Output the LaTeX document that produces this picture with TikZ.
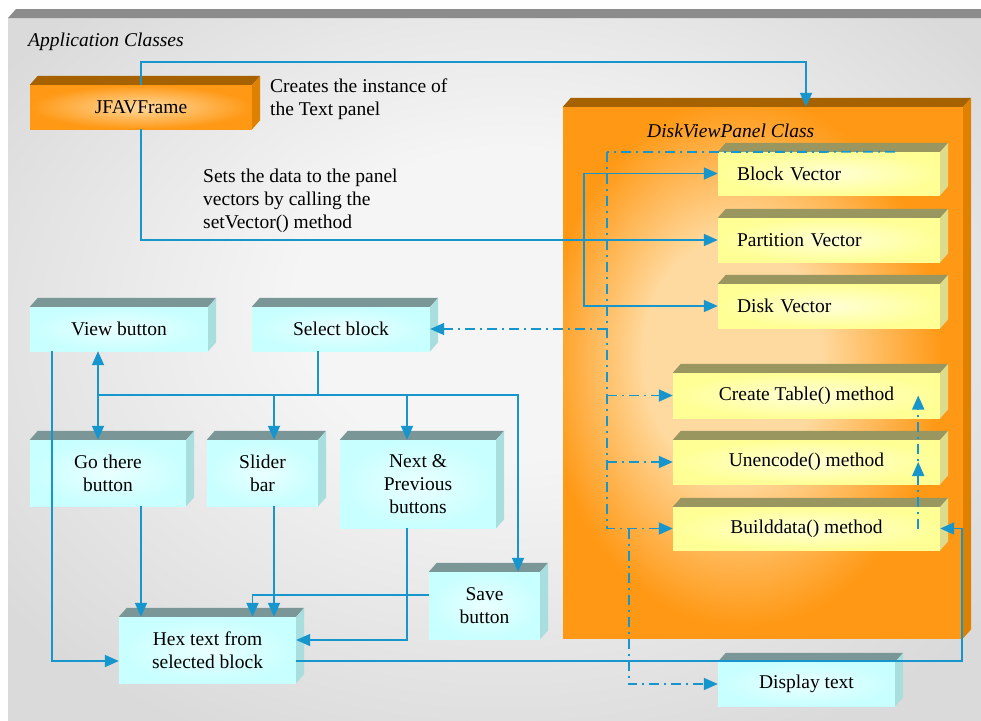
\documentclass[tikz,border=0pt]{standalone}
\usepackage{fontspec}
\setmainfont{Liberation Serif}
\usetikzlibrary{arrows.meta}

\definecolor{linkblue}{RGB}{22,150,205}
\definecolor{bgedge}{RGB}{218,218,218}
\definecolor{bgmid}{RGB}{245,245,245}
\definecolor{bgtop}{RGB}{140,140,140}
\definecolor{orgfront}{RGB}{255,152,20}
\definecolor{orglight}{RGB}{255,218,160}
\definecolor{orgtop}{RGB}{166,98,0}
\definecolor{orgside}{RGB}{222,128,0}
\definecolor{yelfront}{RGB}{255,255,150}
\definecolor{yellight}{RGB}{255,255,215}
\definecolor{yeltop}{RGB}{153,150,96}
\definecolor{yelside}{RGB}{220,220,140}
\definecolor{cyfront}{RGB}{200,255,255}
\definecolor{cylight}{RGB}{234,255,255}
\definecolor{cytop}{RGB}{122,150,150}
\definecolor{cyside}{RGB}{168,222,222}

% soft glow used on the large class panel and on the page background
\pgfdeclareradialshading{panelglow}{\pgfpoint{-5bp}{2bp}}{color(0bp)=(orglight); color(11bp)=(orglight); color(25bp)=(orgfront); color(50bp)=(orgfront)}
\pgfdeclareradialshading{bgglow}{\pgfpoint{1bp}{6bp}}{color(0bp)=(bgmid); color(11bp)=(bgmid); color(32bp)=(bgedge); color(50bp)=(bgedge)}

% top and right faces of a block drawn as a 3D slab
\newcommand\cubesides[3]{%
  \fill[#2] (#1.north west) -- ++(8pt,9pt) -- ([shift={(8pt,9pt)}]#1.north east) -- (#1.north east) -- cycle;
  \fill[#3] (#1.north east) -- ++(8pt,9pt) -- ([shift={(8pt,9pt)}]#1.south east) -- (#1.south east) -- cycle;}

\begin{document}
\begin{tikzpicture}[x=1pt,y=-1pt,
  txt/.style={font=\fontsize{19.5}{23}\selectfont, text=black, inner sep=0pt},
  ital/.style={font=\fontsize{19.5}{23}\selectfont\itshape, text=black, inner sep=0pt},
  box/.style={txt, align=center},
  cybox/.style={box, shade, inner color=cylight, outer color=cyfront},
  yebox/.style={box, shade, inner color=yellight, outer color=yelfront},
  orbox/.style={box, shade, inner color=orglight, outer color=orgfront},
  line/.style={draw=linkblue, line width=1.8pt},
  arr/.style={line, -{Triangle[length=14pt,width=12pt]}},
  arr2/.style={line, {Triangle[length=14pt,width=12pt]}-{Triangle[length=14pt,width=12pt]}},
  dd/.style={dash pattern=on 10pt off 5pt on 2pt off 5pt}]

\useasboundingbox (0,0) rectangle (981,720);
\fill[white] (0,0) rectangle (981,720);
% page background with its top rim
\shade[shading=bgglow] (8,18) rectangle (981,720);
\fill[bgtop] (8,18) -- (16,9) -- (981,9) -- (981,18) -- cycle;

\node[ital, anchor=west] (apptitle) at (28,42) {Application Classes};

% frame class
\node[orbox, minimum width=222pt, minimum height=44pt] (jfav) at (141,107) {JFAVFrame};
\cubesides{jfav}{orgtop}{orgside}
\node[txt, anchor=west, align=left] (note1) at (270,99) {Creates the instance of\\the Text panel};
\node[txt, anchor=west, align=left] (note2) at (203,200.5) {Sets the data to the panel\\vectors by calling the\\setVector() method};

% disk view panel class
\node[shade, shading=panelglow, minimum width=400pt, minimum height=531pt, inner sep=0pt] (panel) at (763,372.5) {};
\cubesides{panel}{orgtop}{orgside}
\node[ital, anchor=west] (paneltitle) at (647,130.5) {DiskViewPanel Class};

\node[yebox, minimum width=222pt, minimum height=43pt, text width=184pt, align=left] (bvec) at (829,173.5) {Block Vector};
\node[yebox, minimum width=222pt, minimum height=44pt, text width=184pt, align=left] (pvec) at (829,240) {Partition Vector};
\node[yebox, minimum width=222pt, minimum height=44pt, text width=184pt, align=left] (dvec) at (829,306) {Disk Vector};
\node[yebox, minimum width=267pt, minimum height=45pt] (ctab) at (806.5,395.5) {Create Table() method};
\node[yebox, minimum width=267pt, minimum height=44pt] (unen) at (806.5,462) {Unencode() method};
\node[yebox, minimum width=267pt, minimum height=43pt] (build) at (806.5,528.5) {Builddata() method};
\foreach \b in {bvec,pvec,dvec,ctab,unen,build} {\cubesides{\b}{yeltop}{yelside}}

% user interface controls
\node[cybox, minimum width=177pt, minimum height=44pt] (disp) at (806.5,684) {Display text};
\node[cybox, minimum width=178pt, minimum height=44pt] (view) at (119,329) {View button};
\node[cybox, minimum width=178pt, minimum height=44pt] (sel) at (341,329) {Select block};
\node[cybox, minimum width=156pt, minimum height=66pt] (goth) at (108,473) {Go there\\button};
\node[cybox, minimum width=111pt, minimum height=66pt] (slid) at (262.5,473) {Slider\\bar};
\node[cybox, minimum width=156pt, minimum height=88pt] (next) at (418,484) {Next \&\\Previous\\buttons};
\node[cybox, minimum width=111pt, minimum height=67pt] (save) at (484.5,605.5) {Save\\button};
\node[cybox, minimum width=177pt, minimum height=66pt] (hex) at (207.5,650) {Hex text from\\selected block};
\foreach \b in {disp,view,sel,goth,slid,next,save,hex} {\cubesides{\b}{cytop}{cyside}}

% creation and vector setup
\draw[arr] (jfav.north) -- ++(0pt,23pt) -| ([xshift=43pt]panel.north);
\draw[arr] (jfav.south) |- (pvec.west);
\coordinate (fork) at (584,240);
\draw[arr] (fork) |- (bvec.west);
\draw[arr] (fork) |- (dvec.west);

% method calls inside the panel
\coordinate (rail) at (607,152);
\draw[line, dd] ([xshift=-45pt]bvec.north east) -- (rail);
\draw[arr, dd] (rail) |- (build.west);
\draw[arr, dd] (rail |- ctab.west) -- (ctab.west);
\draw[arr, dd] (rail |- unen.west) -- (unen.west);
\draw[arr, dd] (rail |- sel.east) -- (sel.east);
\draw[arr, dd] ([xshift=-44pt]build.west) |- (disp.west);
\coordinate (up1) at ([xshift=-22pt]build.east);
\coordinate (up2) at ([xshift=-22pt]unen.east);
\coordinate (up3) at ([xshift=-22pt]ctab.east);
\draw[arr, dd] (up1) -- (up2);
\draw[arr, dd] ([yshift=-14pt]up2) -- (up3);

% hex output fed back to Builddata
\draw[arr] ([yshift=-11pt]hex.east) -- ++(666pt,0pt) |- (build.east);

% selection tree
\coordinate (bus) at (318,395);
\coordinate (busend) at (98,395);
\draw[line] ([xshift=-23pt]sel.south) -- (bus) -- (busend);
\draw[arr] (bus) -| ([xshift=11.5pt]slid.north);
\draw[arr] (bus) -| ([xshift=-11pt]next.north);
\draw[arr] (bus) -| ([xshift=33.5pt]save.north);
\draw[arr2] ([xshift=-21pt]view.south) -- ([xshift=-10pt]goth.north);

% inputs of the hex view
\draw[arr] ([xshift=-67pt]view.south) |- ([yshift=-11pt]hex.west);
\coordinate (g1) at ([xshift=33pt]goth.south);
\draw[arr] (g1) -- (g1 |- hex.north);
\coordinate (s1) at ([xshift=11.5pt]slid.south);
\draw[arr] (s1) -- (s1 |- hex.north);
\coordinate (h2) at ([xshift=45pt]hex.north);
\draw[arr] ([yshift=10.5pt]save.west) -| (h2);
\draw[arr] ([xshift=-11pt]next.south) |- ([yshift=10pt]hex.east);
\end{tikzpicture}
\end{document}
